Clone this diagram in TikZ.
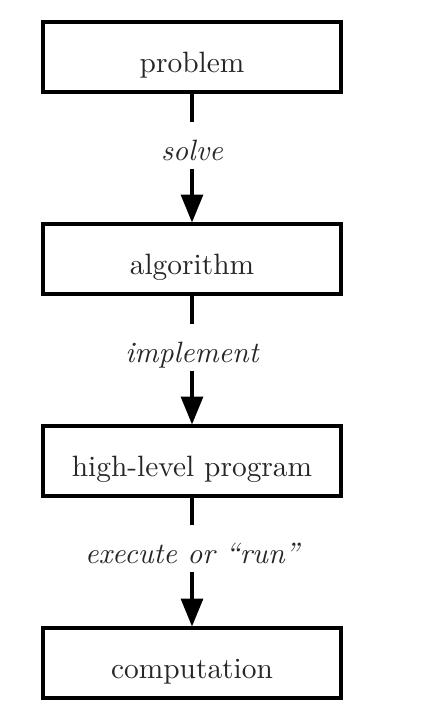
\documentclass[tikz,border=0pt]{standalone}
\usetikzlibrary{arrows.meta}
\begin{document}
\begin{tikzpicture}[x=0.34pt,y=-0.34pt,
  box/.style={draw=black,line width=1.05pt,minimum width=298*0.34pt,minimum height=70*0.34pt,inner sep=0pt,text height=10.2pt,text depth=0pt,text=black!85,font=\fontsize{10}{12}\selectfont},
  lbl/.style={inner sep=0pt,anchor=base,text height=37*0.34pt,text depth=8*0.34pt,text=black!85,font=\fontsize{10}{12}\selectfont\itshape},
  conn/.style={line width=1.05pt,draw=black},
  arr/.style={conn,-{Triangle[length=9.5pt,width=7.5pt]}}]
\useasboundingbox (0,0) rectangle (446,714);
\node[box] (p) at (192,57) {problem};
\node[box] (a) at (192,259) {algorithm};
\node[box] (h) at (192,461) {high-level program};
\node[box] (c) at (192,663) {computation};
\node[lbl] (l1) at (192,160) {solve};
\node[lbl] (l2) at (192,362) {implement};
\node[lbl] (l3) at (192,563) {execute or ``run''};
\draw[conn] (p.south) -- (l1.north);
\draw[arr] (l1.south) -- (a.north);
\draw[conn] (a.south) -- (l2.north);
\draw[arr] (l2.south) -- (h.north);
\draw[conn] (h.south) -- (l3.north);
\draw[arr] (l3.south) -- (c.north);
\end{tikzpicture}
\end{document}
